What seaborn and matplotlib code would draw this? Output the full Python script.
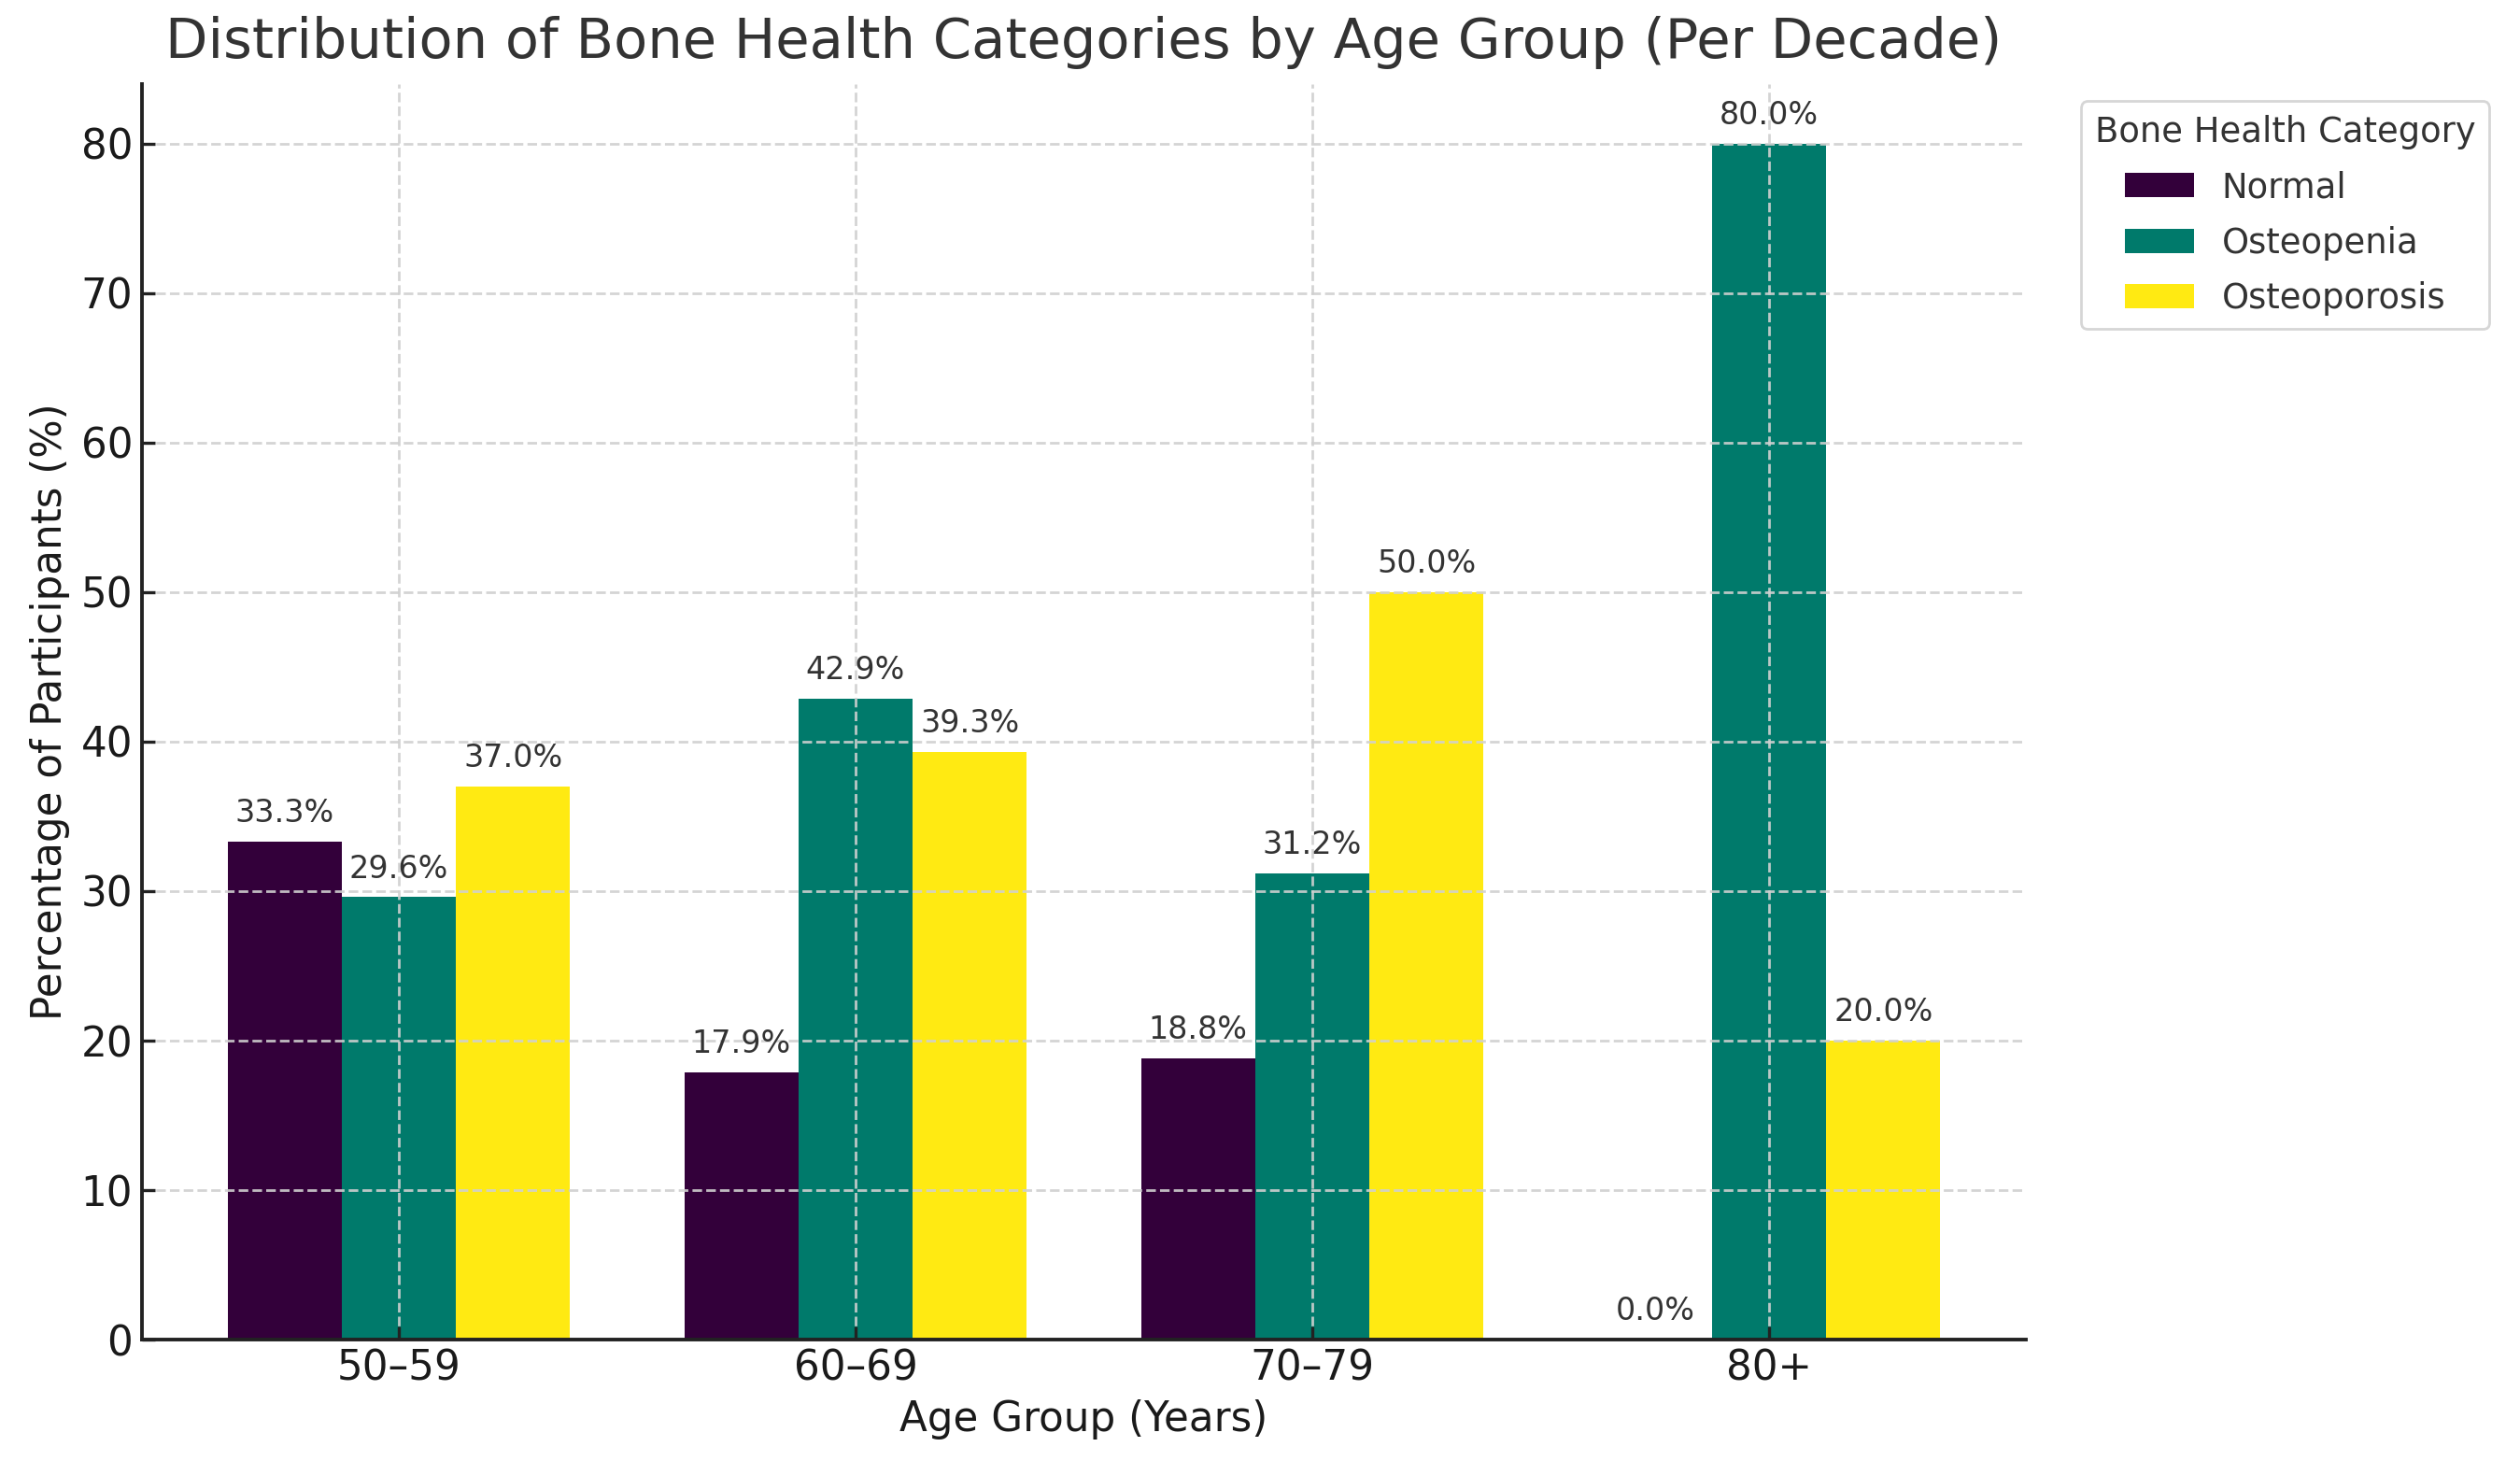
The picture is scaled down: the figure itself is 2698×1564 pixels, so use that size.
import numpy as np
import pandas as pd
import seaborn as sns
import matplotlib
matplotlib.use("Agg")
import matplotlib.pyplot as plt

age_groups = ["50–59", "60–69", "70–79", "80+"]
categories = ["Normal", "Osteopenia", "Osteoporosis"]
normal = [33.3, 17.9, 18.8, 0.0]
osteopenia = [29.6, 42.9, 31.2, 80.0]
osteoporosis = [37.0, 39.3, 50.0, 20.0]
colors = ["#33003a", "#007a6b", "#ffea12"]

df = pd.DataFrame({
    "Age Group": age_groups * 3,
    "Category": [c for c in categories for _ in age_groups],
    "Percent": normal + osteopenia + osteoporosis,
})

sns.set_theme(style="white")
plt.rcParams["font.family"] = ["DejaVu Sans"]

fig = plt.figure(figsize=(13.49, 7.82), dpi=200)
ax = fig.add_axes([0.0563, 0.0831, 0.7477, 0.8594])

sns.barplot(data=df, x="Age Group", y="Percent", hue="Category",
            order=age_groups, hue_order=categories,
            palette=colors, width=0.75, linewidth=0, saturation=1,
            errorbar=None, ax=ax)

for cont in ax.containers:
    ax.bar_label(cont, labels=[f"{v:.1f}%" for v in cont.datavalues],
                 padding=5, fontsize=12, color="#333333")

ax.set_xlim(-0.5625, 3.5625)
ax.set_ylim(0, 84)
ax.set_yticks(np.arange(0, 81, 10))
ax.set_axisbelow(False)
ax.grid(True, axis="both", linestyle="--", color="#d0d0d0", linewidth=1.0, alpha=0.9)

for s in ["top", "right"]:
    ax.spines[s].set_visible(False)
for s in ["left", "bottom"]:
    ax.spines[s].set_color("#222222")
    ax.spines[s].set_linewidth(1.4)
    ax.spines[s].set_zorder(5)

ax.tick_params(axis="both", direction="in", length=5, width=1.2, colors="#222222",
               labelsize=15.7, labelcolor="#1a1a1a", left=True, bottom=True)

ax.set_title("Distribution of Bone Health Categories by Age Group (Per Decade)",
             fontsize=21.3, color="#333333", pad=10)
ax.set_xlabel("Age Group (Years)", fontsize=15.7, color="#1a1a1a")
ax.set_ylabel("Percentage of Participants (%)", fontsize=15.7, color="#1a1a1a")

leg = ax.legend(title="Bone Health Category", loc="upper left",
                bbox_to_anchor=(1.02, 1), fontsize=13.3, title_fontsize=13.3,
                frameon=True, labelspacing=0.6)
leg.get_frame().set_edgecolor("#cccccc")
leg.get_title().set_color("#333333")
for t in leg.get_texts():
    t.set_color("#333333")

fig.savefig("out.png", dpi=200)
